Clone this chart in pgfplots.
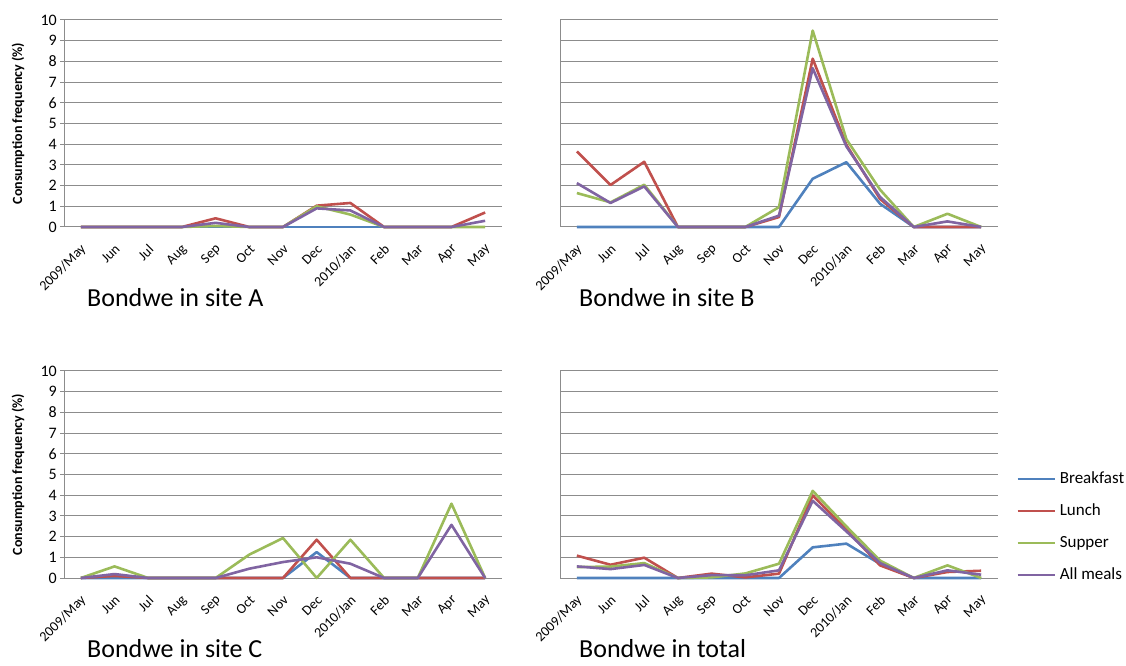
\documentclass[border=0pt]{standalone}
\usepackage{fontspec}
\setmainfont{Carlito}
\usepackage{pgfplots}
\usepackage{pgfplotstable}
\pgfplotsset{compat=1.18}

\definecolor{cBreak}{HTML}{4F81BD}
\definecolor{cLunch}{HTML}{C0504D}
\definecolor{cSupper}{HTML}{9BBB59}
\definecolor{cAll}{HTML}{8064A2}
\definecolor{gridgray}{HTML}{8C8C8C}

% monthly consumption frequency (%) per meal
\pgfplotstableread{
m B L S A
0 0 0 0 0
1 0 0 0 0
2 0 0 0 0
3 0 0 0 0
4 0 0.42 0.05 0.2
5 0 0 0 0
6 0 0 0 0
7 0 1.03 1.0 0.9
8 0 1.16 0.6 0.8
9 0 0 0 0
10 0 0 0 0
11 0 0 0 0
12 0 0.7 0 0.3
}\siteA
\pgfplotstableread{
m B L S A
0 0 3.65 1.64 2.12
1 0 2.03 1.19 1.16
2 0 3.15 2.04 1.96
3 0 0 0 0
4 0 0 0 0
5 0 0 0 0
6 0 0.48 0.96 0.55
7 2.33 8.13 9.49 7.67
8 3.13 3.97 4.24 3.89
9 1.12 1.35 1.8 1.45
10 0 0 0 0
11 0 0 0.64 0.27
12 0 0 0 0
}\siteB
\pgfplotstableread{
m B L S A
0 0 0 0 0
1 0 0.1 0.56 0.19
2 0 0 0 0
3 0 0 0 0
4 0 0 0 0
5 0 0 1.13 0.45
6 0 0 1.93 0.77
7 1.25 1.85 0 1.0
8 0 0 1.85 0.69
9 0 0 0 0
10 0 0 0 0
11 0 0 3.59 2.57
12 0 0 0 0
}\siteC
\pgfplotstableread{
m B L S A
0 0 1.08 0.53 0.56
1 0 0.64 0.55 0.43
2 0 0.98 0.72 0.63
3 0 0 0 0
4 0 0.21 0.03 0.14
5 0 0.03 0.22 0.13
6 0 0.21 0.69 0.37
7 1.48 3.99 4.21 3.73
8 1.66 2.33 2.49 2.25
9 0.68 0.61 0.84 0.72
10 0 0 0 0
11 0 0.29 0.61 0.37
12 0 0.35 0 0.16
}\siteTotal

\pgfplotsset{
  panel/.style={
    scale only axis, width=438bp, height=207bp,
    xmin=-0.5, xmax=12.5, ymin=0, ymax=10,
    xtick={0,...,12},
    xticklabels={2009/May,Jun,Jul,Aug,Sep,Oct,Nov,Dec,2010/Jan,Feb,Mar,Apr,May},
    ytick={0,...,10},
    ymajorgrids, grid style={color=gridgray, line width=1bp},
    axis x line=bottom, axis y line=left,
    axis line style={-, gridgray, line width=1bp},
    xtick style={draw=none},
    ytick style={gridgray, line width=1bp},
    major tick length=4bp,
    tick align=outside,
    /pgf/number format/assume math mode=true,
    xticklabel style={font=\fontsize{14bp}{16bp}\selectfont, inner sep=0pt,
      xshift=3bp, yshift=-16bp, rotate=45, anchor=east},
    yticklabel style={font=\fontsize{16bp}{18bp}\selectfont, inner sep=0pt, xshift=-3bp},
    title style={font=\fontsize{26bp}{30bp}\selectfont, inner sep=0pt, anchor=base west},
    clip=false,
    every axis plot/.append style={line width=2.6bp, no markers, line join=round},
  },
  leftpanel/.style={
    ylabel={Consumption frequency (\%)},
    ylabel style={font=\bfseries\fontsize{14bp}{16bp}\selectfont,
      at={(axis description cs:-0.105,0.5)}, anchor=center},
    title style={at={(axis description cs:0.0525,-0.4106)}},
  },
  rightpanel/.style={
    yticklabels={}, ytick style={draw=none},
    title style={at={(axis description cs:0.0434,-0.4106)}},
  },
}

\newcommand{\meals}[1]{%
  \addplot[cBreak]  table[x=m, y=B] {#1};
  \addplot[cLunch]  table[x=m, y=L] {#1};
  \addplot[cSupper] table[x=m, y=S] {#1};
  \addplot[cAll]    table[x=m, y=A] {#1};
}

\begin{document}
\begin{tikzpicture}
\useasboundingbox (0,0) rectangle (1126bp,666bp);

\begin{axis}[panel, leftpanel, at={(64bp,439bp)}, anchor=south west,
  title={Bondwe in site A}]
  \meals{\siteA}
\end{axis}

\begin{axis}[panel, rightpanel, at={(560bp,439bp)}, anchor=south west,
  title={Bondwe in site B}]
  \meals{\siteB}
\end{axis}

\begin{axis}[panel, leftpanel, at={(64bp,88bp)}, anchor=south west,
  title={Bondwe in site C}]
  \meals{\siteC}
\end{axis}

\begin{axis}[panel, rightpanel, at={(560bp,88bp)}, anchor=south west,
  title={Bondwe in total},
  legend style={draw=none, fill=none, at={(axis description cs:1.0411,0.517)},
    anchor=north west, inner sep=0pt, row sep=16bp,
    font=\fontsize{17bp}{19bp}\selectfont,
    nodes={inner sep=0pt, text height=12bp, text depth=4bp},
    /tikz/every odd column/.style={column sep=4bp}},
  legend cell align=left,
  legend image code/.code={\draw[#1, line width=2.6bp] (0bp,0bp) -- (37bp,0bp);},
  ]
  \meals{\siteTotal}
  \legend{Breakfast,Lunch,Supper,All meals}
\end{axis}
\end{tikzpicture}
\end{document}
